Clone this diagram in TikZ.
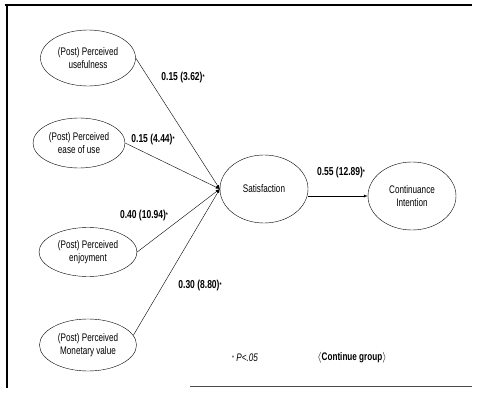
\documentclass[tikz,border=0pt]{standalone}
\usepackage{fontspec}
\setmainfont{Liberation Sans}[FakeStretch=0.74]
\usepackage{tikz}
\usetikzlibrary{shapes.geometric}

\newcommand{\sig}{\raisebox{0.3ex}{\scriptsize *}}

\begin{document}
\begin{tikzpicture}[x=1pt,y=-1pt,
	construct/.style={ellipse,draw,thin,inner sep=0pt,align=center,font=\fontsize{11}{13}\selectfont},
	coef/.style={font=\fontsize{11.5}{13}\selectfont\bfseries,inner sep=1pt},
	path/.style={thin,-latex}]
	\useasboundingbox (0,0) rectangle (482,393);
	% frame
	\draw[line width=1.2pt] (5,5) -- (472,5);
	\draw[line width=1.2pt] (7,5) -- (7,388);
	\draw[line width=0.8pt,black!70] (190,386) -- (472,386);
	% constructs
	\node[construct,minimum width=95,minimum height=56] (pu) at (88,58) {(Post) Perceived\\usefulness};
	\node[construct,minimum width=92,minimum height=50] (pe) at (79,143) {(Post) Perceived\\ease of use};
	\node[construct,minimum width=98,minimum height=49] (pj) at (88,252) {(Post) Perceived\\enjoyment};
	\node[construct,minimum width=97,minimum height=52] (pm) at (88,345) {(Post) Perceived\\Monetary value};
	\node[construct,minimum width=88,minimum height=68] (sat) at (264,189) {Satisfaction};
	\node[construct,minimum width=88,minimum height=68] (ci) at (412,196) {Continuance\\Intention};
	% paths
	\draw[path] (pu.east) -- (sat.west);
	\draw[path] (pe.east) -- (sat.west);
	\draw[path] (pj.east) -- (sat.west);
	\draw[path] (pm.12) -- (sat.west);
	\draw[path] (sat.east |- ci.west) -- (ci.west);
	% coefficients
	\node[coef] (cpu) at (183,78) {0.15 (3.62)\sig};
	\node[coef] (cpe) at (153,140) {0.15 (4.44)\sig};
	\node[coef] (cpj) at (144,216) {0.40 (10.94)\sig};
	\node[coef] (cpm) at (200,286) {0.30 (8.80)\sig};
	\node[coef] (csat) at (341,173) {0.55 (12.89)\sig};
	% notes
	\node[font=\fontsize{11}{13}\selectfont] (note) at (245,358) {\sig\ \textit{P<.05}};
	\node[font=\fontsize{11}{13}\selectfont\bfseries] (grp) at (352,358) {$\langle$Continue group$\rangle$};
\end{tikzpicture}
\end{document}
